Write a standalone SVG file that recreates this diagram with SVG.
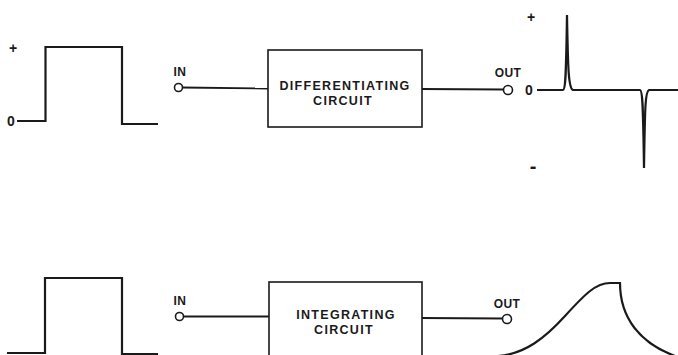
<svg xmlns="http://www.w3.org/2000/svg" width="678" height="355" viewBox="0 0 678 355">
<style>
.w{fill:none;stroke:#1a1a1a;stroke-width:2.2;stroke-linejoin:miter}
.box{fill:#fff;stroke:#1a1a1a;stroke-width:1.6}
.ln{fill:none;stroke:#1a1a1a;stroke-width:1.8}
.term{fill:#fff;stroke:#1a1a1a;stroke-width:1.6}
.t{font-family:"Liberation Sans",Arial,sans-serif;font-weight:bold;fill:#1a1a1a;text-anchor:middle}
.bl{font-size:12.5px;letter-spacing:1.3px}
.lb{font-size:12px;letter-spacing:0.4px}
.sg{font-size:14px}
.mn{font-size:20px}
</style>
<rect width="678" height="355" fill="#fff"/>

<g id="connectors">
<line class="ln" x1="182" y1="87.5" x2="268" y2="88.5"/>
<line class="ln" x1="421" y1="89" x2="504" y2="89.5"/>
<line class="ln" x1="184" y1="316.5" x2="270" y2="316.5"/>
<line class="ln" x1="421" y1="318" x2="503" y2="318.5"/>
</g>

<g id="input-wave-top">
<path class="w" d="M17,121 L45.5,121 L45.5,47 L122,47 L122,124 L158,124"/>
<text class="t sg" x="13" y="53">+</text>
<text class="t sg" x="11" y="126">0</text>
</g>

<g id="in-top">
<text class="t lb" x="180" y="76">IN</text>
<circle class="term" cx="178.5" cy="87.5" r="4"/>
</g>

<g id="differentiating-circuit">
<rect class="box" x="268" y="50" width="154" height="77"/>
<text class="t bl" x="345" y="90">DIFFERENTIATING</text>
<text class="t bl" x="343" y="105">CIRCUIT</text>
</g>

<g id="out-top">
<text class="t lb" x="508" y="77">OUT</text>
<circle class="term" cx="508" cy="90" r="4.5"/>
</g>

<g id="output-wave-top">
<path class="w" d="M537,90 L563,90 C566,89.5 566,70 567,15 C568,70 568.5,88.5 573,90 L640,90 C643,90.5 643,110 644,168 C645,110 645,91.5 649,90 L678,90"/>
<text class="t sg" x="531" y="22">+</text>
<text class="t sg" x="529" y="95">0</text>
<text class="t mn" x="533" y="173">-</text>
</g>

<g id="input-wave-bottom">
<path class="w" d="M7,353 L45,353 L45,278 L122,278 L122,354 L158,354"/>
</g>

<g id="in-bottom">
<text class="t lb" x="180" y="305">IN</text>
<circle class="term" cx="179.5" cy="316.5" r="4"/>
</g>

<g id="integrating-circuit">
<rect class="box" x="269" y="282" width="153" height="76"/>
<text class="t bl" x="346" y="319">INTEGRATING</text>
<text class="t bl" x="344" y="334">CIRCUIT</text>
</g>

<g id="out-bottom">
<text class="t lb" x="507" y="308">OUT</text>
<circle class="term" cx="507" cy="319" r="4.5"/>
</g>

<g id="output-wave-bottom">
<path class="w" d="M498,356 C525,354 545,338 565,316 C585,294 596,283 610,283 L620,283 C620,318 640,343 675,356"/>
</g>
</svg>
